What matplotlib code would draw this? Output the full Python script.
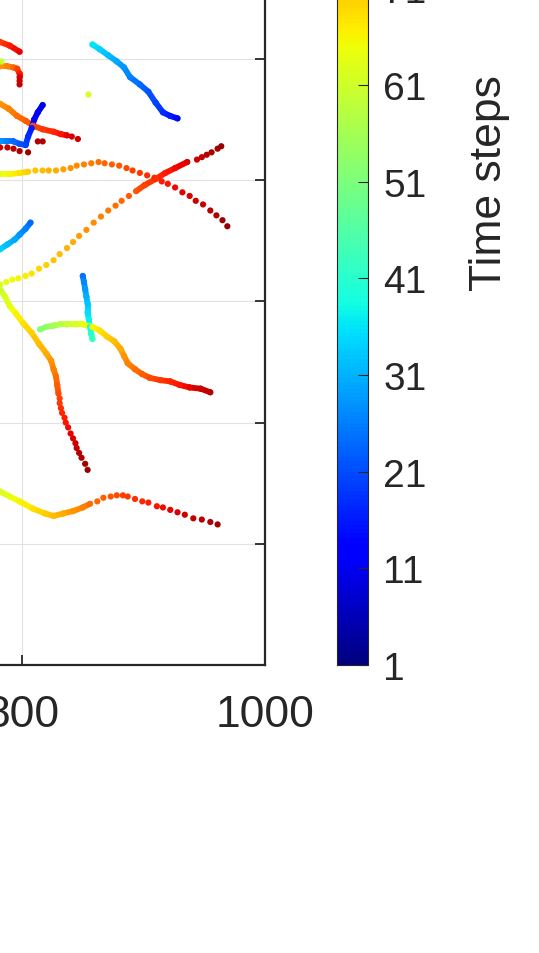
import numpy as np
import matplotlib.pyplot as plt
from matplotlib.collections import LineCollection
from matplotlib.colors import Normalize

plt.rcParams['font.family'] = ['Liberation Sans', 'DejaVu Sans']

# trajectories: x, y and time step of each recorded position
traj_a_x = [782, 790, 798]
traj_a_y = [514, 511, 506]
traj_a_t = [86, 89, 92]

traj_b_x = [782, 788, 793, 796, 798, 798, 798, 798]
traj_b_y = [494, 494, 493, 492, 488, 485, 482, 479]
traj_b_t = [76, 78, 81, 85, 89, 93, 94, 95]

traj_c_x = [928, 922, 916, 910, 904, 897, 889, 884, 878, 871, 864, 858]
traj_c_y = [451, 453, 456, 464, 473, 479, 485, 493, 498, 503, 508, 512]
traj_c_t = [14, 16, 18, 20, 22, 24, 26, 28, 30, 32, 34, 36]

traj_d_x = [854]
traj_d_y = [471]
traj_d_t = [62]

traj_e_x = [782, 789, 796, 803, 809, 817, 826, 832, 837, 841, 846]
traj_e_y = [463, 459, 453, 449, 445, 442, 440, 438, 437, 436, 434]
traj_e_t = [76, 78, 80, 82, 84, 86, 88, 90, 92, 93, 94]

traj_f_x = [817, 813, 810, 808, 805, 803, 798, 793, 787, 782]
traj_f_y = [462, 456, 450, 443, 436, 429, 430, 432, 432, 432]
traj_f_t = [10, 12, 14, 16, 18, 20, 22, 24, 26, 28]

traj_g_x = [782, 788, 793, 798, 805]
traj_g_y = [427, 427, 426, 424, 423]
traj_g_t = [94, 95, 96, 97, 98]

traj_h_x = [813, 817]
traj_h_y = [432, 432]
traj_h_t = [96, 97]

traj_i_x = [782, 790, 798, 805, 811, 817, 822, 828, 834, 840, 845, 851, 857,
            863, 868, 874, 880, 886, 891, 897, 903, 909, 915, 920, 926, 932,
            938, 943, 949, 955, 960, 965, 969]
traj_i_y = [405, 405, 406, 407, 408, 408, 408, 408, 409, 410, 412, 413, 414,
            415, 414, 413, 412, 410, 408, 406, 404, 402, 399, 397, 394, 390,
            387, 383, 380, 375, 371, 367, 362]
traj_i_t = [64, 66, 68, 70, 71, 72, 73, 74, 75, 76, 77, 78, 79, 80, 81, 82,
            83, 84, 85, 86, 87, 88, 89, 90, 91, 92, 93, 94, 95, 96, 97, 98, 99]

traj_j_x = [782, 787, 792, 797, 803, 808, 814, 820, 826, 831, 837, 842, 847,
            853, 859, 865, 871, 877, 882, 888, 894, 901, 910, 918, 926, 936,
            944, 948, 952, 956, 961, 964]
traj_j_y = [314, 316, 318, 319, 321, 323, 327, 330, 334, 339, 344, 349, 354,
            359, 365, 370, 375, 379, 383, 387, 391, 396, 401, 406, 410, 415,
            417, 419, 421, 423, 426, 428]
traj_j_t = [63, 64, 65, 66, 67, 68, 69, 70, 71, 72, 73, 74, 75, 76, 77, 78,
            79, 80, 81, 82, 83, 85, 87, 89, 91, 93, 94, 95, 96, 97, 98, 99]

traj_k_x = [807, 803, 798, 794, 788, 782]
traj_k_y = [365, 360, 355, 351, 347, 343]
traj_k_t = [24, 26, 28, 30, 32, 34]

traj_l_x = [850, 851, 852, 853, 854, 854, 855, 856, 857, 858]
traj_l_y = [321, 316, 310, 304, 298, 291, 285, 279, 273, 269]
traj_l_t = [25, 27, 29, 31, 33, 35, 37, 39, 41, 43]

traj_m_x = [782, 786, 790, 795, 801, 808, 814, 820, 824, 826, 828, 829, 830,
            831, 831, 832, 833, 835, 836, 838, 840, 842, 844, 845, 847, 849,
            852, 854]
traj_m_y = [310, 304, 296, 290, 282, 274, 265, 257, 251, 244, 238, 231, 224,
            220, 216, 212, 208, 204, 200, 196, 191, 187, 183, 179, 175, 171,
            166, 161]
traj_m_t = [60, 62, 64, 66, 68, 70, 72, 74, 76, 78, 80, 82, 84, 85, 86, 87,
            88, 89, 90, 91, 92, 93, 94, 95, 96, 97, 98, 99]

traj_n_x = [815, 820, 826, 831, 837, 844, 850, 858, 864, 870, 876, 881, 884,
            887, 893, 899, 905, 914, 922, 930, 938, 947, 955]
traj_n_y = [277, 279, 280, 281, 281, 281, 281, 279, 276, 271, 267, 261, 255,
            249, 244, 240, 237, 235, 234, 231, 229, 228, 225]
traj_n_t = [52, 54, 56, 58, 60, 62, 64, 66, 68, 70, 72, 74, 76, 78, 80, 82,
            84, 86, 88, 90, 92, 94, 96]

traj_o_x = [782, 790, 798, 809, 819, 826, 834, 842, 850, 856, 862, 867, 873,
            878, 883, 887, 893, 899, 904, 911, 916, 922, 928, 934, 941, 948,
            955, 961]
traj_o_y = [143, 139, 135, 129, 125, 123, 125, 127, 130, 133, 135, 138, 139,
            140, 140, 139, 137, 135, 134, 131, 130, 128, 126, 124, 121, 120,
            118, 116]
traj_o_t = [62, 64, 66, 68, 70, 72, 74, 76, 78, 80, 81, 82, 83, 84, 85, 86,
            87, 88, 89, 90, 91, 92, 93, 94, 95, 96, 97, 98]

traj_p_x = [783]
traj_p_y = [498]
traj_p_t = [60]

trajectories = [
    (traj_a_x, traj_a_y, traj_a_t), (traj_b_x, traj_b_y, traj_b_t),
    (traj_c_x, traj_c_y, traj_c_t), (traj_d_x, traj_d_y, traj_d_t),
    (traj_e_x, traj_e_y, traj_e_t), (traj_f_x, traj_f_y, traj_f_t),
    (traj_g_x, traj_g_y, traj_g_t), (traj_h_x, traj_h_y, traj_h_t),
    (traj_i_x, traj_i_y, traj_i_t), (traj_j_x, traj_j_y, traj_j_t),
    (traj_k_x, traj_k_y, traj_k_t), (traj_l_x, traj_l_y, traj_l_t),
    (traj_m_x, traj_m_y, traj_m_t), (traj_n_x, traj_n_y, traj_n_t),
    (traj_o_x, traj_o_y, traj_o_t), (traj_p_x, traj_p_y, traj_p_t),
]

x_ticks = [0, 200, 400, 600, 800, 1000]
y_ticks = [0, 100, 200, 300, 400, 500, 600, 700, 800]
cbar_ticks = [1, 11, 21, 31, 41, 51, 61, 71, 81, 91, 101]
t_min, t_max = 1, 101

W, H = 539, 954
dark = '#262626'
norm = Normalize(t_min, t_max)
cmap = plt.get_cmap('jet')

fig = plt.figure(figsize=(W / 100, H / 100), dpi=100)
ax = fig.add_axes([-950 / W, 288 / H, 1215 / W, 969.6 / H])

for xs, ys, ts in trajectories:
    xs, ys, ts = np.array(xs), np.array(ys), np.array(ts)
    # connect positions only where time steps were skipped (dense tracks)
    segs, vals = [], []
    for i in range(len(xs) - 1):
        if ts[i + 1] - ts[i] > 1:
            segs.append([(xs[i], ys[i]), (xs[i + 1], ys[i + 1])])
            vals.append((ts[i] + ts[i + 1]) / 2)
    if segs:
        lc = LineCollection(segs, cmap=cmap, norm=norm, linewidths=4.2,
                            capstyle='round', zorder=2)
        lc.set_array(np.array(vals))
        ax.add_collection(lc)
    ax.scatter(xs, ys, c=ts, cmap=cmap, norm=norm, s=20, linewidths=0,
               zorder=3)

ax.set_xlim(0, 1000)
ax.set_ylim(0, 800)
ax.set_xticks(x_ticks)
ax.set_yticks(y_ticks)
ax.grid(True, color='#e2e2e2', linewidth=0.8)
ax.set_axisbelow(True)
ax.tick_params(direction='in', length=7, width=1.3, top=True, right=True,
               colors=dark, labelsize=32, pad=21)
for sp in ax.spines.values():
    sp.set_linewidth(1.6)
    sp.set_color(dark)

cax = fig.add_axes([337 / W, 288 / H, 31 / W, 967 / H])
sm = plt.cm.ScalarMappable(norm=norm, cmap=cmap)
cbar = fig.colorbar(sm, cax=cax, ticks=cbar_ticks)
cbar.outline.set_linewidth(0.8)
cbar.outline.set_edgecolor(dark)
cax.tick_params(direction='in', length=7, width=0.8, colors=dark,
                labelsize=28, pad=11)

fig.text(490 / W, 1 - 183 / H, 'Time steps', rotation=90, ha='center',
         va='center', fontsize=32, color=dark)

fig.savefig('out.png', dpi=100)
